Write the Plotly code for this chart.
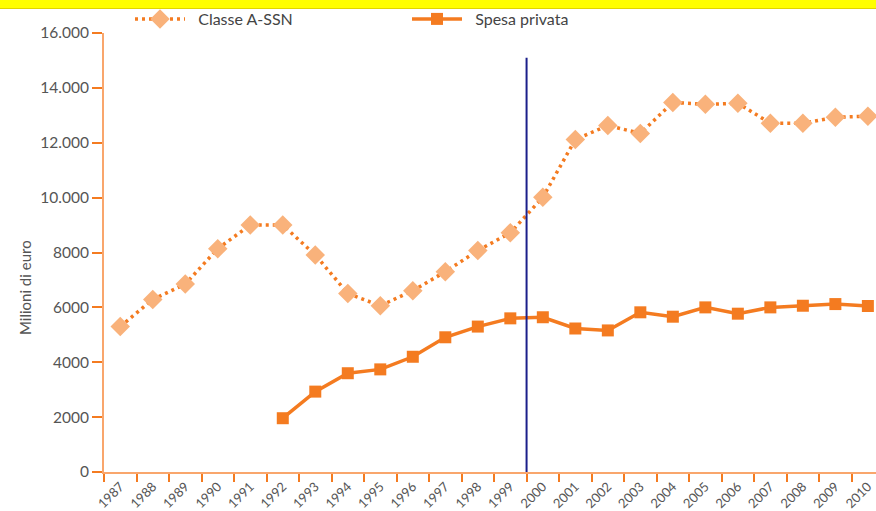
import plotly.graph_objects as go

years = [str(y) for y in range(1987, 2011)]
classe_assn = [5300, 6290, 6850, 8140, 9000, 9000, 7910, 6510, 6060, 6610, 7300, 8070,
               8720, 10010, 12120, 12630, 12340, 13470, 13400, 13440, 12710, 12710, 12930, 12970]
spesa_years = [str(y) for y in range(1992, 2011)]
spesa_privata = [1960, 2930, 3600, 3740, 4200, 4910, 5300, 5600, 5640, 5230, 5160, 5820,
                 5660, 6000, 5770, 6000, 6060, 6120, 6050]
y_tickvals = [0, 2000, 4000, 6000, 8000, 10000, 12000, 14000, 16000]
y_ticktext = ["0", "2000", "4000", "6000", "8000", "10.000", "12.000", "14.000", "16.000"]
marker_year_split = 12.5  # boundary between 1999 and 2000 (category index)

DARK = "#F47B20"
LIGHT = "#F9B27B"
AXIS = "#F9A66C"
TXT = "#555555"
FONT = "Lato"

fig = go.Figure()
fig.add_trace(go.Scatter(
    x=years, y=classe_assn, name="\u00a0\u00a0Classe A-SSN", mode="lines+markers",
    line=dict(color=DARK, width=3.5, dash="3px,4px"),
    marker=dict(symbol="diamond", size=15, color=LIGHT),
    legend="legend",
))
fig.add_trace(go.Scatter(
    x=spesa_years, y=spesa_privata, name="\u00a0\u00a0Spesa privata", mode="lines+markers",
    line=dict(color=DARK, width=3.5),
    marker=dict(symbol="square", size=12, color=DARK),
    legend="legend2",
))

# vertical marker line
fig.add_shape(type="line", xref="x", yref="y", x0=marker_year_split, x1=marker_year_split,
              y0=0, y1=15100, line=dict(color="#1B1F8A", width=2), layer="above")
# yellow band at top
fig.add_shape(type="rect", xref="paper", yref="paper", x0=-0.14, x1=1.01,
              y0=(472 - 8.5) / 439, y1=(472 + 2) / 439,
              fillcolor="#FFFF00", line=dict(color="#E0D400", width=1), layer="above")
# y axis title
fig.add_annotation(text="Milioni di euro", xref="paper", yref="paper",
                   x=(25 - 104) / 772, y=(472 - 288) / 439, textangle=-90,
                   showarrow=False, font=dict(size=15, color=TXT, family=FONT),
                   xanchor="center", yanchor="middle")

fig.update_layout(
    width=876, height=511,
    margin=dict(l=104, r=0, t=33, b=39, autoexpand=False),
    plot_bgcolor="white", paper_bgcolor="white",
    font=dict(family=FONT, color=TXT, size=14),
    showlegend=True,
    legend=dict(orientation="h", x=(130 - 104) / 772, xanchor="left",
                y=(472 - 19) / 439, yanchor="middle", itemwidth=50,
                font=dict(family=FONT, size=16, color="#444444"), bgcolor="rgba(0,0,0,0)"),
    legend2=dict(orientation="h", x=(407 - 104) / 772, xanchor="left",
                 y=(472 - 19) / 439, yanchor="middle", itemwidth=50,
                 font=dict(family=FONT, size=16, color="#444444"), bgcolor="rgba(0,0,0,0)"),
)
fig.update_xaxes(
    type="category", categoryorder="array", categoryarray=years,
    range=[-0.5, 23.25], tickson="boundaries", automargin=False,
    showline=True, linecolor=AXIS, linewidth=2,
    ticks="outside", ticklen=8, tickcolor=DARK, tickwidth=1.5,
    tickangle=-45, tickfont=dict(size=13, color=TXT),
    showgrid=False, zeroline=False,
)
fig.update_yaxes(
    range=[0, 16000], tickvals=y_tickvals, ticktext=y_ticktext, automargin=False,
    showline=True, linecolor=AXIS, linewidth=2,
    ticks="outside", ticklen=10, tickcolor=DARK, tickwidth=1.5,
    showgrid=False, zeroline=False,
    tickfont=dict(size=15.5, color=TXT),
)

fig.write_html("out.html", config={"displayModeBar": False},
               post_script="document.body.style.margin='0';document.body.style.overflow='hidden';")
